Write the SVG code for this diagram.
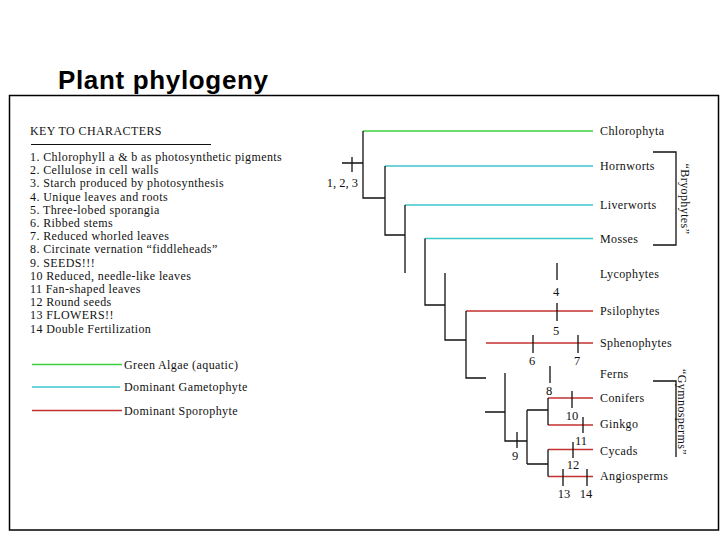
<svg xmlns="http://www.w3.org/2000/svg" width="720" height="540" viewBox="0 0 720 540">
<style>
.t{font-family:"Liberation Serif","Times New Roman",serif;font-size:12px;fill:#111;letter-spacing:0.4px}
.k{font-family:"Liberation Serif","Times New Roman",serif;font-size:12px;fill:#111;letter-spacing:0.4px}
.n{font-family:"Liberation Serif","Times New Roman",serif;font-size:12.5px;fill:#111;text-anchor:middle}
.b{stroke:#111;stroke-width:1.3;fill:none}
.g{stroke:#3ccf3c;stroke-width:1.5}
.c{stroke:#3ec6cc;stroke-width:1.5}
.r{stroke:#c43030;stroke-width:1.5}
</style>
<rect x="0" y="0" width="720" height="540" fill="#fff"/>
<text x="58" y="89" font-family="'Liberation Sans',Arial,sans-serif" font-weight="bold" font-size="26" textLength="210" fill="#000">Plant phylogeny</text>
<rect x="9.5" y="95.5" width="709" height="434.5" fill="none" stroke="#000" stroke-width="1.5"/>

<g id="key">
<text class="k" x="30" y="135">KEY TO CHARACTERS</text>
<line x1="31" y1="144.5" x2="211" y2="144.5" stroke="#111" stroke-width="1.2"/>
<text class="k" x="30" y="161">1. Chlorophyll a &amp; b as photosynthetic pigments</text>
<text class="k" x="30" y="174.2">2. Cellulose in cell walls</text>
<text class="k" x="30" y="187.4">3. Starch produced by photosynthesis</text>
<text class="k" x="30" y="200.6">4. Unique leaves and roots</text>
<text class="k" x="30" y="213.8">5. Three-lobed sporangia</text>
<text class="k" x="30" y="227">6. Ribbed stems</text>
<text class="k" x="30" y="240.2">7. Reduced whorled leaves</text>
<text class="k" x="30" y="253.4">8. Circinate vernation “fiddleheads”</text>
<text class="k" x="30" y="266.6">9. SEEDS!!!</text>
<text class="k" x="30" y="279.8">10  Reduced, needle-like leaves</text>
<text class="k" x="30" y="293">11  Fan-shaped leaves</text>
<text class="k" x="30" y="306.2">12  Round seeds</text>
<text class="k" x="30" y="319.4">13  FLOWERS!!</text>
<text class="k" x="30" y="332.6">14  Double Fertilization</text>
</g>

<g id="legend">
<line class="g" x1="32" y1="364.5" x2="122" y2="364.5"/>
<text class="t" x="124" y="368.5">Green Algae (aquatic)</text>
<line class="c" x1="32" y1="387" x2="120" y2="387"/>
<text class="t" x="124" y="391">Dominant Gametophyte</text>
<line class="r" x1="32" y1="410.5" x2="122" y2="410.5"/>
<text class="t" x="124" y="414.5">Dominant Sporophyte</text>
</g>

<g id="connectors">
<line class="g" x1="363" y1="131" x2="593" y2="131"/>
<line class="c" x1="385" y1="166" x2="593" y2="166"/>
<line class="c" x1="405" y1="205" x2="593" y2="205"/>
<line class="c" x1="425" y1="238.5" x2="593" y2="238.5"/>
<line class="r" x1="466" y1="311" x2="593" y2="311"/>
<line class="r" x1="486" y1="343" x2="593" y2="343"/>
<line class="r" x1="548" y1="398" x2="593" y2="398"/>
<line class="r" x1="548" y1="425" x2="593" y2="425"/>
<line class="r" x1="548" y1="449.5" x2="593" y2="449.5"/>
<line class="r" x1="548" y1="476.5" x2="593" y2="476.5"/>
<path class="b" d="M342 163H363M352 157V172M363 131V198H385M385 166V235H405M405 205V273M425 238.5V305H445M445 273V340H466M466 311V378H486M485 412H505M505 373V441H527M527 410V464M527 410H548M527 464H548M548 398V425M548 449.5V476.5"/>
<path class="b" d="M557 263V280M557 303V321M533 335V353M578 335V353M550 366V383M517 432V448M572 391V408M583 417V433M573 442V458M563 469V486M587 469V486"/>
<path class="b" d="M653 152H676V245H653M653 381H676V457"/>
</g>

<g id="labels-numbers">
<text class="n" x="358" y="187" style="text-anchor:end">1, 2, 3</text>
<text class="n" x="556" y="296">4</text>
<text class="n" x="556" y="335">5</text>
<text class="n" x="532" y="365">6</text>
<text class="n" x="577" y="365">7</text>
<text class="n" x="549" y="395">8</text>
<text class="n" x="515" y="460">9</text>
<text class="n" x="572" y="420">10</text>
<text class="n" x="581" y="445">11</text>
<text class="n" x="573" y="469">12</text>
<text class="n" x="564" y="498">13</text>
<text class="n" x="586" y="498">14</text>
</g>

<g id="node-chlorophyta"><text class="t" x="600" y="135">Chlorophyta</text></g>
<g id="node-hornworts"><text class="t" x="600" y="170">Hornworts</text></g>
<g id="node-liverworts"><text class="t" x="600" y="209">Liverworts</text></g>
<g id="node-mosses"><text class="t" x="600" y="243">Mosses</text></g>
<g id="node-lycophytes"><text class="t" x="600" y="278">Lycophytes</text></g>
<g id="node-psilophytes"><text class="t" x="600" y="315">Psilophytes</text></g>
<g id="node-sphenophytes"><text class="t" x="600" y="347">Sphenophytes</text></g>
<g id="node-ferns"><text class="t" x="600" y="378">Ferns</text></g>
<g id="node-conifers"><text class="t" x="600" y="402">Conifers</text></g>
<g id="node-ginkgo"><text class="t" x="600" y="428">Ginkgo</text></g>
<g id="node-cycads"><text class="t" x="600" y="455">Cycads</text></g>
<g id="node-angiosperms"><text class="t" x="600" y="480">Angiosperms</text></g>

<g id="group-bryophytes"><text class="t" transform="translate(681,199) rotate(90)" text-anchor="middle">“Bryophytes”</text></g>
<g id="group-gymnosperms"><text class="t" transform="translate(678,412) rotate(90)" text-anchor="middle">“Gymnosperms”</text></g>
</svg>
